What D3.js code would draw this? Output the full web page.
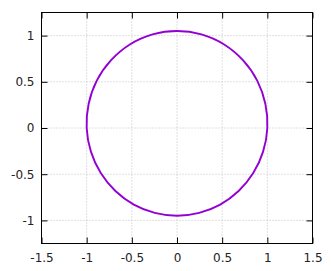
<!DOCTYPE html>
<html>
<head>
<meta charset="utf-8">
<script src="https://cdn.jsdelivr.net/npm/d3@7"></script>
<style>
  body { margin: 0; background: #fff; }
  text { font-family: "DejaVu Sans", sans-serif; font-size: 12px; fill: #222; }
</style>
</head>
<body>
<svg id="chart" width="331" height="271"></svg>
<script>
// points (x, y), going round once
const curveX = [1, 0.978, 0.888, 0.732, 0.522, 0.271, 0, -0.271, -0.522, -0.732, -0.888, -0.978,
                -1, -0.953, -0.844, -0.682, -0.478, -0.246, 0, 0.246, 0.478, 0.682, 0.844, 0.953];
const curveY = [0, 0.262, 0.513, 0.732, 0.904, 1.013, 1.05, 1.013, 0.904, 0.732, 0.513, 0.262,
                0, -0.256, -0.488, -0.682, -0.829, -0.919, -0.95, -0.919, -0.829, -0.682, -0.488, -0.256];
const xTicks = [-1.5, -1, -0.5, 0, 0.5, 1, 1.5];
const yTicks = [-1, -0.5, 0, 0.5, 1];

const pLeft = 41.5, pRight = 312.5, pTop = 12.5, pBottom = 243.5;

const svg = d3.select("#chart");

const x = d3.scaleLinear().domain([-1.5, 1.5]).range([pLeft, pRight]);
const y = d3.scaleLinear().domain([-1.25, 1.25]).range([pBottom, pTop]);

// plain hyphen for negatives, like the original
const fmt = d => String(d);

// grid (dotted), skip the border positions
const grid = svg.append("g");
grid.selectAll(".gx")
    .data(xTicks.filter(d => d > -1.5 && d < 1.5))
    .join("line")
    .attr("x1", d => x(d)).attr("x2", d => x(d))
    .attr("y1", pTop).attr("y2", pBottom)
    .attr("stroke", "#c0c0c0").attr("stroke-width", 1).attr("stroke-dasharray", "1,2");
grid.selectAll(".gy")
    .data(yTicks)
    .join("line")
    .attr("x1", pLeft).attr("x2", pRight)
    .attr("y1", d => y(d)).attr("y2", d => y(d))
    .attr("stroke", "#c0c0c0").attr("stroke-width", 1).attr("stroke-dasharray", "1,2");

// the curve
const pts = curveX.map((v, i) => [v, curveY[i]]);
const line = d3.line()
    .x(d => x(d[0]))
    .y(d => y(d[1]))
    .curve(d3.curveCatmullRomClosed);

svg.append("path")
    .datum(pts)
    .attr("d", line)
    .attr("fill", "none")
    .attr("stroke", "#9400d3")
    .attr("stroke-width", 1.9);

// axes with inward ticks, mirrored
const tl = 6;
svg.append("g").attr("transform", "translate(0," + pBottom + ")")
    .call(d3.axisBottom(x).tickValues(xTicks).tickSize(-tl).tickPadding(9.5).tickFormat(fmt))
    .call(g => g.select(".domain").remove());
svg.append("g").attr("transform", "translate(0," + pTop + ")")
    .call(d3.axisTop(x).tickValues(xTicks).tickSize(-tl).tickFormat(""))
    .call(g => g.select(".domain").remove());
svg.append("g").attr("transform", "translate(" + pLeft + ",0)")
    .call(d3.axisLeft(y).tickValues(yTicks).tickSize(-tl).tickPadding(7).tickFormat(fmt))
    .call(g => g.select(".domain").remove());
svg.append("g").attr("transform", "translate(" + pRight + ",0)")
    .call(d3.axisRight(y).tickValues(yTicks).tickSize(-tl).tickFormat(""))
    .call(g => g.select(".domain").remove());

svg.selectAll(".tick line").attr("stroke", "#000");
svg.selectAll(".tick text").attr("fill", "#222").style("font-size", "12px")
    .style("font-family", "'DejaVu Sans', sans-serif");

// frame
svg.append("rect")
    .attr("x", pLeft).attr("y", pTop)
    .attr("width", pRight - pLeft).attr("height", pBottom - pTop)
    .attr("fill", "none").attr("stroke", "#000").attr("stroke-width", 1);
</script>
</body>
</html>
